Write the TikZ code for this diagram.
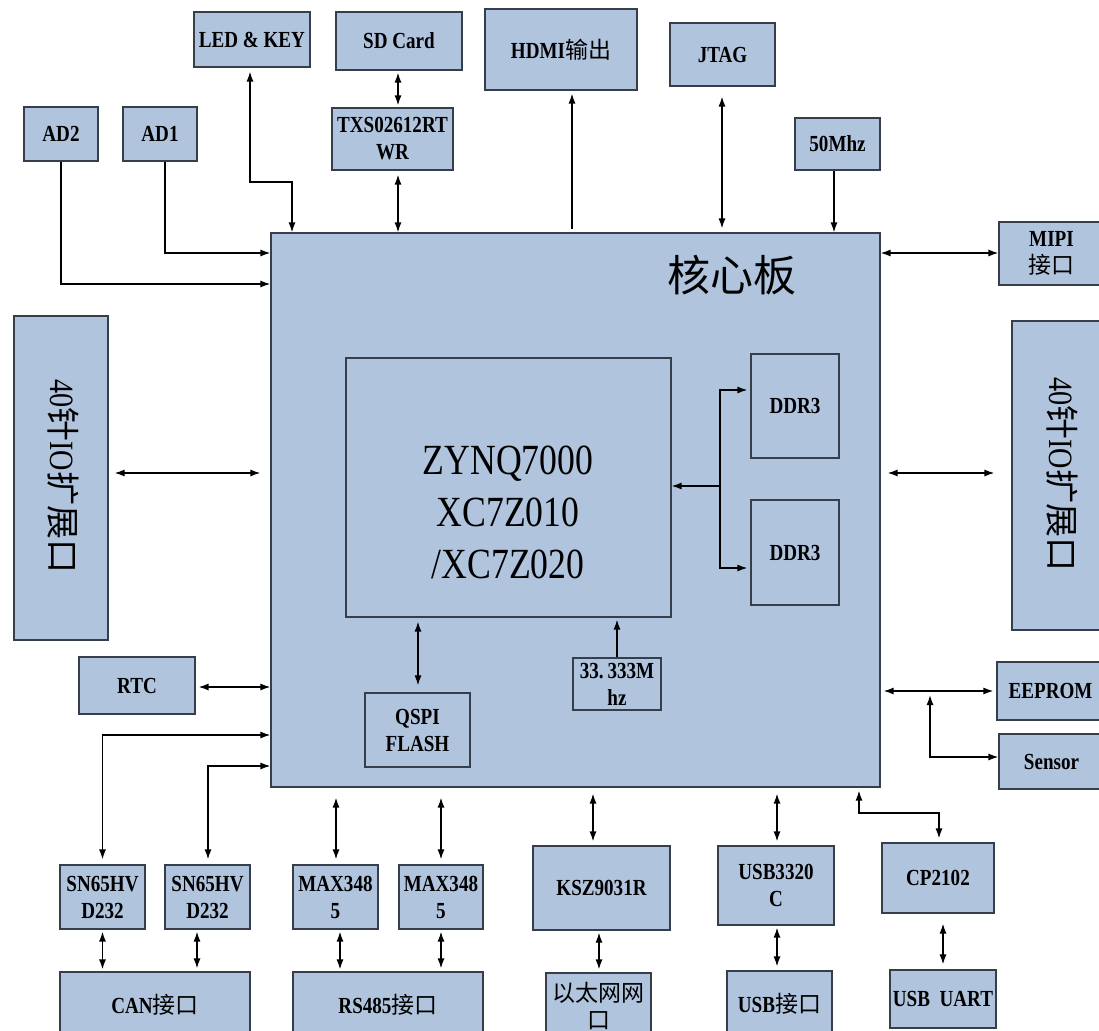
\documentclass[tikz,border=0pt]{standalone}
\usepackage{fontspec}
\setmainfont{Liberation Serif}
\newfontfamily\lab{Liberation Serif}[FakeStretch=0.83]
\newfontfamily\cjk{Noto Sans CJK SC}
\newcommand\zh[1]{{\cjk\mdseries #1}}
\usetikzlibrary{arrows.meta}
\definecolor{boxfill}{RGB}{176,196,222}
\definecolor{boxline}{RGB}{55,62,75}
\begin{document}
\begin{tikzpicture}[x=1pt,y=-1pt,
 box/.style={draw=boxline, line width=1.1pt, fill=boxfill, inner sep=0pt, align=center,
   font=\lab\bfseries\fontsize{23}{27}\selectfont},
 wire/.style={line width=1.4pt, draw=black},
 bi/.style={wire, {Latex[length=10pt,width=7pt]}-{Latex[length=10pt,width=7pt]}},
 uni/.style={wire, -{Latex[length=10pt,width=7pt]}},
]
\useasboundingbox (0,0) rectangle (1099,1030);

% top row
\node[box, minimum width=116pt, minimum height=55pt] (led) at (252,39.5) {LED \& KEY};
\node[box, minimum width=126pt, minimum height=58pt] (sd) at (399,41) {SD Card};
\node[box, minimum width=152pt, minimum height=81pt] (hdmi) at (561,49.5) {HDMI\zh{输出}};
\node[box, minimum width=105pt, minimum height=63pt] (jtag) at (722.5,54.5) {JTAG};
\node[box, minimum width=74pt, minimum height=54pt] (ad2) at (61,134) {AD2};
\node[box, minimum width=74pt, minimum height=54pt] (ad1) at (160,134) {AD1};
\node[box, minimum width=121pt, minimum height=62pt] (txs) at (392.5,139) {TXS02612RT\\WR};
\node[box, minimum width=85pt, minimum height=52pt] (mhz) at (837.5,144) {50Mhz};

% core
\node[box, minimum width=609pt, minimum height=554pt] (core) at (575.5,510) {};
\node[font=\cjk\fontsize{43}{43}\selectfont] (title) at (732,275) {核心板};
\node[box, minimum width=105pt, minimum height=63pt] (mipi) at (1051.5,253.5) {MIPI\\\zh{接口}};

% side IO
\node[box, minimum width=94pt, minimum height=324pt] (io1) at (61,478) {};
\node[rotate=-90, font=\fontsize{34}{34}\selectfont] (io1t) at (63,476) {{\lab 40}{\cjk 针}{\lab IO}{\cjk 扩展口}};
\node[box, minimum width=92pt, minimum height=309pt] (io2) at (1058,475.5) {};
\node[rotate=-90, font=\fontsize{34}{34}\selectfont] (io2t) at (1062,474) {{\lab 40}{\cjk 针}{\lab IO}{\cjk 扩展口}};

% inside core
\node[box, minimum width=325pt, minimum height=259pt] (zynq) at (508.5,487.5) {};
\node[font=\lab\fontsize{43}{52}\selectfont, align=center] (zynqt) at (508,512) {ZYNQ7000\\XC7Z010\\/XC7Z020};
\node[box, minimum width=88pt, minimum height=104pt] (ddr1) at (795,406) {DDR3};
\node[box, minimum width=88pt, minimum height=105pt] (ddr2) at (795,552.5) {DDR3};
\node[box, minimum width=105pt, minimum height=74pt] (qspi) at (417.5,730) {QSPI\\FLASH};
\node[box, minimum width=88pt, minimum height=52pt] (osc) at (617,684) {33.\,333M\\hz};

% left/right lower
\node[box, minimum width=116pt, minimum height=57pt] (rtc) at (137,685.5) {RTC};
\node[box, minimum width=107pt, minimum height=58pt] (eeprom) at (1050.5,691) {EEPROM};
\node[box, minimum width=105pt, minimum height=55pt] (sensor) at (1051.5,761.5) {Sensor};

% bottom rows
\node[box, minimum width=85pt, minimum height=64pt] (sn1) at (102.5,897) {SN65HV\\D232};
\node[box, minimum width=85pt, minimum height=64pt] (sn2) at (207.5,897) {SN65HV\\D232};
\node[box, minimum width=85pt, minimum height=64pt] (max1) at (335.5,897) {MAX348\\5};
\node[box, minimum width=84pt, minimum height=64pt] (max2) at (441,897) {MAX348\\5};
\node[box, minimum width=137pt, minimum height=84pt] (ksz) at (601.5,888) {KSZ9031R};
\node[box, minimum width=116pt, minimum height=79pt] (usbc) at (776,885.5) {USB3320\\C};
\node[box, minimum width=112pt, minimum height=70pt] (cp) at (938,878) {CP2102};

\node[box, minimum width=190pt, minimum height=66pt] (can) at (155,1005) {CAN\zh{接口}};
\node[box, minimum width=190pt, minimum height=66pt] (rs) at (388,1005) {RS485\zh{接口}};
\node[box, minimum width=105pt, minimum height=66pt] (eth) at (598.5,1006) {\zh{以太网网}\\\zh{口}};
\node[box, minimum width=105pt, minimum height=66pt] (usbif) at (779.5,1004) {USB\zh{接口}};
\node[box, minimum width=106pt, minimum height=58pt] (uart) at (943,999) {USB~~UART};

% connectors top
\draw[bi, shorten <=4pt] (250,0 |- led.south) |- (292,182) -- (292,0 |- core.north);
\draw[bi, shorten <=2pt, shorten >=2pt] (398,0 |- sd.south) -- (398,0 |- txs.north);
\draw[bi, shorten <=4pt] (398,0 |- txs.south) -- (398,0 |- core.north);
\draw[uni, shorten >=3pt, shorten <=3pt] (572,0 |- core.north) -- (572,0 |- hdmi.south);
\draw[bi, shorten <=10pt, shorten >=4pt] (722,0 |- jtag.south) -- (722,0 |- core.north);
\draw[uni] (834,0 |- mhz.south) -- (834,0 |- core.north);
\draw[uni] (165,0 |- ad1.south) |- (core.west |- 0,253);
\draw[uni] (61,0 |- ad2.south) |- (core.west |- 0,284);
\draw[bi] (core.east |- 0,253) -- (mipi.west |- 0,253);

% sides
\draw[bi, shorten <=6pt, shorten >=10pt] (io1.east |- 0,473) -- (core.west |- 0,473);
\draw[bi, shorten <=7pt, shorten >=17pt] (core.east |- 0,473) -- (io2.west |- 0,473);

% DDR
\coordinate (dj) at (720,486);
\draw[uni] (dj) -- (zynq.east |- dj);
\draw[uni, shorten >=3pt] (dj) |- (ddr1.west |- 0,390);
\draw[uni, shorten >=3pt] (dj) |- (ddr2.west |- 0,568);

% QSPI / osc
\draw[bi, shorten <=4pt, shorten >=7pt] (418,0 |- zynq.south) -- (418,0 |- qspi.north);
\draw[uni, shorten >=2pt] (617,0 |- osc.north) -- (617,0 |- zynq.south);

% lower left
\draw[bi, shorten <=3pt] (rtc.east |- 0,687) -- (core.west |- 0,687);
\draw[bi, shorten >=5pt] (core.west |- 0,735) -| (102.5,0 |- sn1.north);
\draw[bi, shorten >=5pt] (core.west |- 0,766) -| (208,0 |- sn2.north);
\draw[bi, shorten <=10pt, shorten >=5pt] (336,0 |- core.south) -- (336,0 |- max1.north);
\draw[bi, shorten <=10pt, shorten >=5pt] (441,0 |- core.south) -- (441,0 |- max2.north);
\draw[bi, shorten <=2pt, shorten >=2pt] (102.5,0 |- sn1.south) -- (102.5,0 |- can.north);
\draw[bi, shorten <=2pt, shorten >=3pt] (197,0 |- sn2.south) -- (197,0 |- can.north);
\draw[bi, shorten <=2pt, shorten >=2pt] (340,0 |- max1.south) -- (340,0 |- rs.north);
\draw[bi, shorten <=2pt, shorten >=3pt] (441,0 |- max2.south) -- (441,0 |- rs.north);

% lower middle/right
\draw[bi, shorten <=6pt, shorten >=4pt] (593,0 |- core.south) -- (593,0 |- ksz.north);
\draw[bi, shorten <=2pt, shorten >=3pt] (599,0 |- ksz.south) -- (599,0 |- eth.north);
\draw[bi, shorten <=6pt, shorten >=4pt] (777,0 |- core.south) -- (777,0 |- usbc.north);
\draw[bi, shorten <=2pt, shorten >=4pt] (777,0 |- usbc.south) -- (777,0 |- usbif.north);
\draw[bi, shorten <=3pt, shorten >=4pt] (859,0 |- core.south) |- (939,813) -- (939,0 |- cp.north);
\draw[bi, shorten <=10pt, shorten >=5pt] (943,0 |- cp.south) -- (943,0 |- uart.north);
\draw[bi, shorten <=3pt, shorten >=3pt] (core.east |- 0,691) -- (eeprom.west |- 0,691);
\coordinate (sj) at (930,691);
\draw[bi, shorten <=4pt] (sj) |- (sensor.west |- 0,757);
\end{tikzpicture}
\end{document}
